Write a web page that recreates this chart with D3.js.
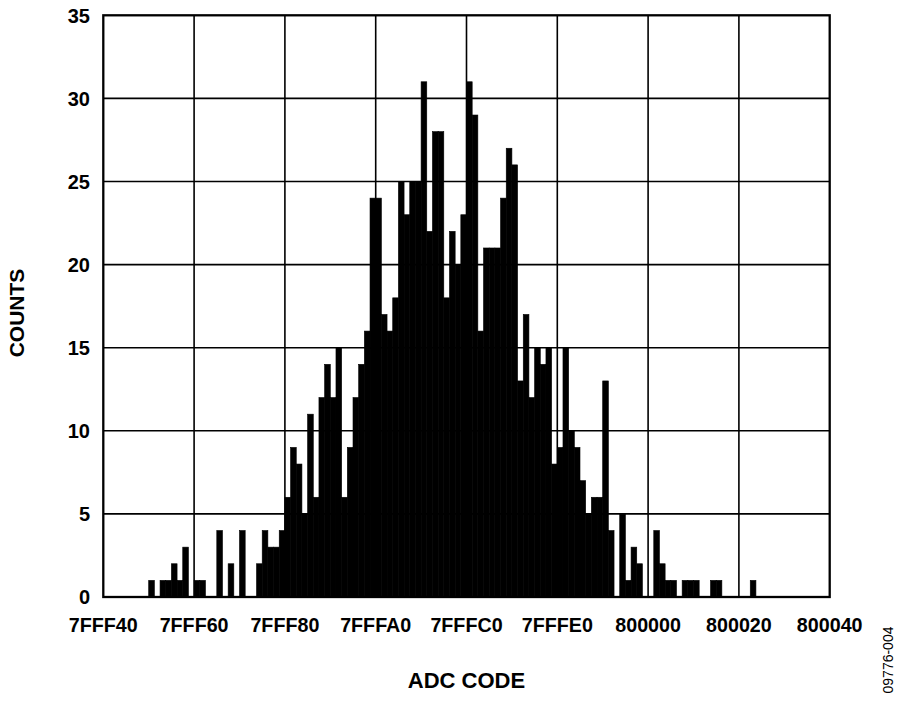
<!DOCTYPE html>
<html>
<head>
<meta charset="utf-8">
<script src="https://cdn.jsdelivr.net/npm/d3@7"></script>
<style>
  html, body { margin: 0; padding: 0; background: #fff; }
  svg { display: block; }
  text { font-family: "Liberation Sans", Arial, sans-serif; }
</style>
</head>
<body>
<svg id="chart" width="900" height="702"></svg>
<script>
// ---- data ----
const xDomain = [0x7FFF40, 0x800040];
const xTickCodes = [0x7FFF40, 0x7FFF60, 0x7FFF80, 0x7FFFA0, 0x7FFFC0, 0x7FFFE0, 0x800000, 0x800020, 0x800040];
const xTickLabels = ["7FFF40", "7FFF60", "7FFF80", "7FFFA0", "7FFFC0", "7FFFE0", "800000", "800020", "800040"];
const yTicks = [0, 5, 10, 15, 20, 25, 30, 35];
const binWidth = 2;            // codes per bin
const firstBin = 0x7FFF50;     // code of first listed bin
const counts = [
  1, 0, 1, 1, 2, 1, 3, 0, 1, 1, 0, 0, 4, 0, 2, 0,
  4, 0, 0, 2, 4, 3, 3, 4, 6, 9, 8, 5, 11, 6, 12, 14,
  12, 15, 6, 9, 12, 14, 16, 24, 24, 17, 16, 18, 25, 23, 25, 25,
  31, 22, 28, 28, 18, 22, 20, 23, 31, 29, 16, 21, 21, 21, 24, 27,
  26, 13, 17, 12, 15, 14, 15, 8, 9, 15, 10, 9, 7, 5, 6, 6,
  13, 4, 0, 5, 1, 3, 2, 0, 0, 4, 2, 1, 1, 0, 1, 1,
  1, 0, 0, 1, 1, 0, 0, 0, 0, 0, 1
];
const xTitle = "ADC CODE";
const yTitle = "COUNTS";
const figId = "09776-004";

// ---- layout ----
const pL = 103.3, pR = 829.7, pT = 15.3, pB = 597;
const svg = d3.select("#chart");
const x = d3.scaleLinear().domain(xDomain).range([pL, pR]);
const y = d3.scaleLinear().domain([0, 35]).range([pB, pT]);

const bins = counts.map((c, i) => ({ code: firstBin + i * binWidth, count: c }));

// gridlines
svg.append("g").selectAll("line")
  .data(yTicks.filter(t => t > 0 && t < 35))
  .join("line")
  .attr("x1", pL).attr("x2", pR)
  .attr("y1", d => y(d)).attr("y2", d => y(d))
  .attr("stroke", "#000").attr("stroke-width", 1.6);
svg.append("g").selectAll("line")
  .data(xTickCodes.slice(1, -1))
  .join("line")
  .attr("x1", d => x(d)).attr("x2", d => x(d))
  .attr("y1", pT).attr("y2", pB)
  .attr("stroke", "#000").attr("stroke-width", 1.6);

// bars
svg.append("g").selectAll("rect")
  .data(bins.filter(b => b.count > 0))
  .join("rect")
  .attr("x", d => x(d.code))
  .attr("width", d => x(d.code + binWidth) - x(d.code))
  .attr("y", d => y(d.count))
  .attr("height", d => y(0) - y(d.count))
  .attr("fill", "#000")
  .attr("stroke", "#000")
  .attr("stroke-width", 0.6);

// frame
svg.append("rect")
  .attr("x", pL).attr("y", pT)
  .attr("width", pR - pL).attr("height", pB - pT)
  .attr("fill", "none").attr("stroke", "#000").attr("stroke-width", 2.3);

// y tick labels
svg.append("g").selectAll("text")
  .data(yTicks)
  .join("text")
  .attr("x", 90).attr("y", d => y(d))
  .attr("dy", "0.36em")
  .attr("text-anchor", "end")
  .attr("font-size", 20).attr("font-weight", "bold")
  .text(d => d);

// x tick labels
svg.append("g").selectAll("text")
  .data(xTickCodes)
  .join("text")
  .attr("x", d => x(d)).attr("y", 632)
  .attr("text-anchor", "middle")
  .attr("font-size", 19.7).attr("font-weight", "bold")
  .text((d, i) => xTickLabels[i]);

// axis titles
svg.append("text")
  .attr("x", 466.5).attr("y", 688)
  .attr("text-anchor", "middle")
  .attr("font-size", 22).attr("font-weight", "bold")
  .text(xTitle);
svg.append("text")
  .attr("transform", "translate(23.5,313) rotate(-90)")
  .attr("text-anchor", "middle")
  .attr("font-size", 21).attr("font-weight", "bold")
  .text(yTitle);

// figure id
svg.append("text")
  .attr("transform", "translate(892.5,660) rotate(-90)")
  .attr("text-anchor", "middle")
  .attr("font-size", 14)
  .text(figId);
</script>
</body>
</html>
